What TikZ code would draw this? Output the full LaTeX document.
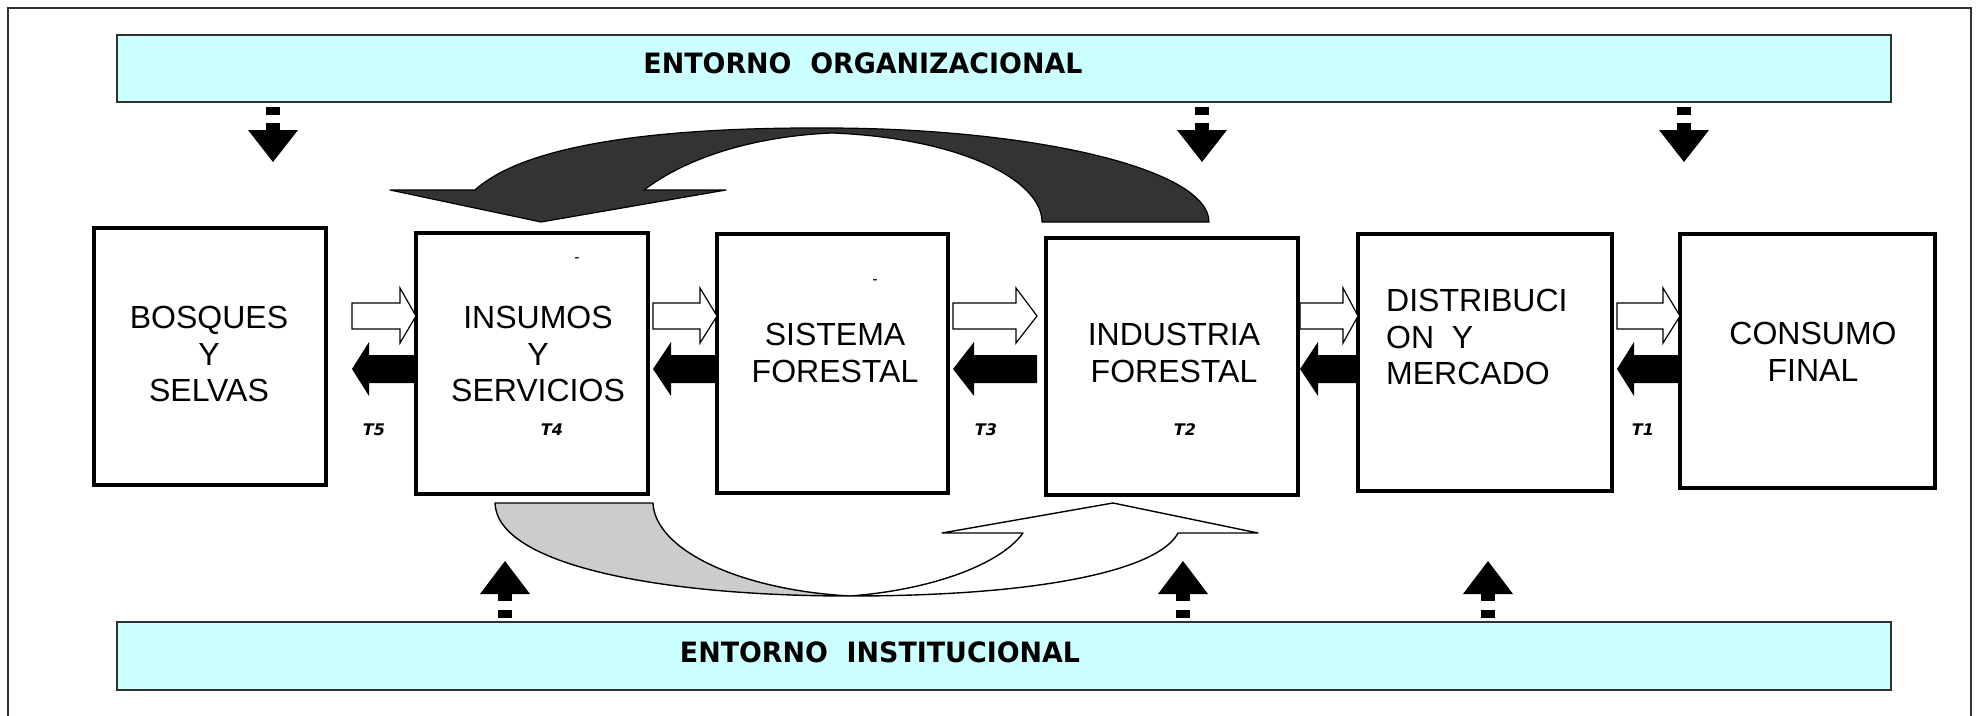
\documentclass[tikz,border=0pt]{standalone}
\usepackage{fontspec}
\setmainfont{Liberation Sans}
\newfontfamily\vfont{DejaVu Sans}
\definecolor{bandcol}{RGB}{204,255,255}
\definecolor{darkA}{RGB}{51,51,51}
\definecolor{ribgray}{RGB}{204,204,204}
\definecolor{framecol}{RGB}{50,50,50}
\newcommand\whitearr[3]{% tail, head base, tip
  \draw[warr] (#1,303) -- (#2,303) -- (#2,288) -- (#3,316) -- (#2,343) -- (#2,329) -- (#1,329) -- cycle;}
\newcommand\blackarr[3]{% tip, head base, tail
  \fill[barr] (#1,369) -- (#2,342) -- (#2,355) -- (#3,355) -- (#3,383) -- (#2,383) -- (#2,396) -- cycle;}
\newcommand\downarr[1]{%
  \fill ({#1-7},107) rectangle ({#1+7},115);
  \fill ({#1-7},123) rectangle ({#1+7},131);
  \fill ({#1-25},130) -- ({#1+25},130) -- (#1,162) -- cycle;}
\newcommand\uparr[1]{%
  \fill ({#1-7},610) rectangle ({#1+7},618);
  \fill ({#1-7},593) rectangle ({#1+7},601);
  \fill ({#1-25},594) -- ({#1+25},594) -- (#1,561) -- cycle;}
\newcommand\bandtext[1]{\scalebox{0.96}[1]{\vfont\bfseries\fontsize{28}{32}\selectfont #1}}
\begin{document}
\begin{tikzpicture}[x=1pt,y=-1pt,
  box/.style={draw=black, line width=4pt, fill=white, inner sep=0pt},
  boxtxt/.style={font=\fontsize{32}{36.6}\selectfont, align=center, inner sep=0pt},
  band/.style={draw=framecol, line width=2pt, fill=bandcol},
  bandtxt/.style={inner sep=0pt},
  tlab/.style={font=\vfont\bfseries\itshape\fontsize{16}{18}\selectfont, inner sep=0pt},
  dashtxt/.style={font=\fontsize{16}{18}\selectfont, inner sep=0pt},
  warr/.style={draw=black, line width=1.2pt, fill=white},
  barr/.style={fill=black},
  ribbon/.style={draw=black, line width=1.4pt, line join=round}]
\useasboundingbox (0,0) rectangle (1978,715);
\fill[white] (0,0) rectangle (1978,715);
% frame
\draw[framecol, line width=2pt] (8,740) -- (8,8) -- (1971,8) -- (1971,740);
% bands
\path[band] (117,35) rectangle (1891,102);
\node[bandtxt] (orgtxt) at (863,63) {\bandtext{ENTORNO\ \ ORGANIZACIONAL}};
\path[band] (117,622) rectangle (1891,690);
\node[bandtxt] (insttxt) at (880,652) {\bandtext{ENTORNO\ \ INSTITUCIONAL}};
% boxes
\node[box, minimum width=232pt, minimum height=257pt] (bosques) at (210,356.5) {};
\node[box, minimum width=232pt, minimum height=261pt] (insumos) at (532,363.5) {};
\node[box, minimum width=231pt, minimum height=259pt] (sistema) at (832.5,363.5) {};
\node[box, minimum width=252pt, minimum height=257pt] (industria) at (1172,366.5) {};
\node[box, minimum width=254pt, minimum height=257pt] (distrib) at (1485,362.5) {};
\node[box, minimum width=255pt, minimum height=254pt] (consumo) at (1807.5,361) {};
% box texts
\node[boxtxt] (t1) at (209,354) {BOSQUES\\Y\\SELVAS};
\node[boxtxt] (t2) at (538,354) {INSUMOS\\Y\\SERVICIOS};
\node[boxtxt] (t3) at (835,353) {SISTEMA\\FORESTAL};
\node[boxtxt] (t4) at (1174,353) {INDUSTRIA\\FORESTAL};
\node[boxtxt, align=left, anchor=west] (t5) at (1386,337) {DISTRIBUCI\\ON\ \ Y\\MERCADO};
\node[boxtxt] (t6) at (1813,352) {CONSUMO\\FINAL};
\node[dashtxt] (d1) at (577,260) {-};
\node[dashtxt] (d2) at (875,282) {-};
% T labels
\node[tlab] (T5) at (374,430) {T5};
\node[tlab] (T4) at (552,430) {T4};
\node[tlab] (T3) at (986,430) {T3};
\node[tlab] (T2) at (1185,430) {T2};
\node[tlab] (T1) at (1643,430) {T1};
% horizontal block arrows
\whitearr{352}{400}{416}
\blackarr{352}{369}{416}
\whitearr{653}{700}{717}
\blackarr{653}{671}{717}
\whitearr{953}{1016}{1037}
\blackarr{953}{974}{1037}
\whitearr{1300}{1343}{1358}
\blackarr{1300}{1318}{1358}
\whitearr{1617}{1663}{1680}
\blackarr{1617}{1634}{1680}
% vertical dashed arrows
\downarr{273}
\downarr{1202}
\downarr{1684}
\uparr{505}
\uparr{1183}
\uparr{1488}
% top curved arrow
\filldraw[fill=darkA, draw=black, line width=1.2pt, line join=round]
  (475,190) .. controls (530,140) and (680,127) .. (832,128)
  .. controls (1040,129) and (1209,170) .. (1209,222)
  -- (1042,222)
  .. controls (1042,180) and (960,138) .. (832,133)
  .. controls (760,136) and (690,155) .. (644,190)
  -- (726,190) -- (541,222) -- (390,190) -- cycle;
% bottom ribbon arrow
\filldraw[fill=ribgray, ribbon]
  (495,503) -- (653,503) .. controls (655,550) and (740,590) .. (850,596)
  .. controls (660,596) and (497,565) .. (495,503) -- cycle;
\filldraw[fill=white, ribbon]
  (850,596) .. controls (1050,596) and (1160,568) .. (1178,533)
  -- (1258,533) -- (1113,503) -- (942,533) -- (1023,533)
  .. controls (1000,565) and (930,590) .. (850,596) -- cycle;
\end{tikzpicture}
\end{document}
